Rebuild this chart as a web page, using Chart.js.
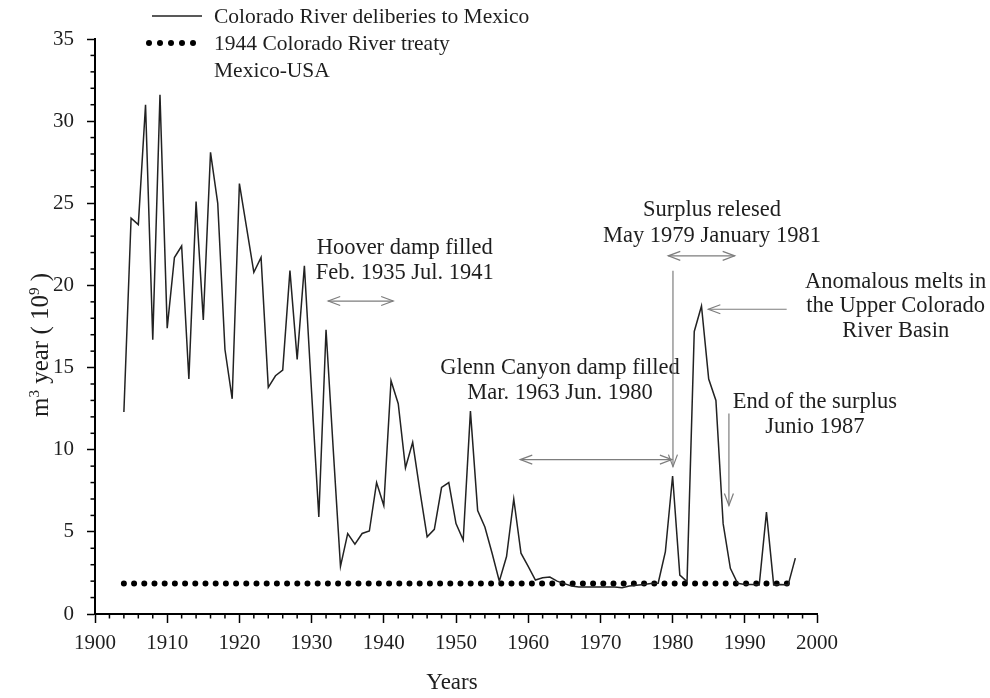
<!DOCTYPE html>
<html>
<head>
<meta charset="utf-8">
<script src="https://cdn.jsdelivr.net/npm/chart.js@4.4.0/dist/chart.umd.min.js"></script>
<style>
  html, body { margin: 0; padding: 0; background: #fff; }
  #wrap { position: relative; width: 990px; height: 698px; }
</style>
</head>
<body>
<div id="wrap"><canvas id="chart"></canvas></div>
<script>
// Colorado River deliveries to Mexico (10^9 m3 / year)
const years = [
    1904, 1905, 1906, 1907, 1908, 1909, 1910, 1911, 1912, 1913,
    1914, 1915, 1916, 1917, 1918, 1919, 1920, 1921, 1922, 1923,
    1924, 1925, 1926, 1927, 1928, 1929, 1930, 1931, 1932, 1933,
    1934, 1935, 1936, 1937, 1938, 1939, 1940, 1941, 1942, 1943,
    1944, 1945, 1946, 1947, 1948, 1949, 1950, 1951, 1952, 1953,
    1954, 1955, 1956, 1957, 1958, 1959, 1960, 1961, 1962, 1963,
    1964, 1965, 1966, 1967, 1968, 1969, 1970, 1971, 1972, 1973,
    1974, 1975, 1976, 1977, 1978, 1979, 1980, 1981, 1982, 1983,
    1984, 1985, 1986, 1987, 1988, 1989, 1990, 1991, 1992, 1993,
    1994, 1995, 1996, 1997,
];
const deliveries = [
    12.3, 24.1, 23.7, 31.0, 16.7, 31.6, 17.4, 21.7, 22.4, 14.3,
    25.1, 17.9, 28.1, 25.0, 16.1, 13.1, 26.2, 23.5, 20.8, 21.7,
    13.8, 14.5, 14.85, 20.9, 15.5, 21.2, 13.5, 5.9, 17.3, 10.0,
    2.9, 4.9, 4.25, 4.9, 5.05, 8.0, 6.6, 14.2, 12.8, 8.9,
    10.45, 7.5, 4.7, 5.15, 7.7, 8.0, 5.5, 4.5, 12.35, 6.3,
    5.3, 3.7, 2.0, 3.5, 7.0, 3.7, 2.9, 2.07, 2.2, 2.25,
    2.0, 1.85, 1.7, 1.65, 1.65, 1.65, 1.65, 1.65, 1.65, 1.6,
    1.7, 1.75, 1.8, 1.85, 1.87, 3.8, 8.4, 2.37, 1.97, 17.2,
    18.75, 14.3, 13.0, 5.5, 2.78, 1.87, 1.8, 1.8, 1.77, 6.2,
    1.77, 1.8, 1.77, 3.4,
];

// 1944 treaty allotment (constant line)
const treatyYears = [1904, 1997];
const treatyValues = [1.85, 1.85];

// axes
const xRange = [1900, 2000];
const yRange = [0, 35];

const serif = "'Liberation Serif', 'Times New Roman', serif";
const textColor = '#1e1e1e';
const arrowColor = '#7d7d7d';

function drawArrowHead(ctx, x, y, angle) {
    const len = 12, half = 4.5;
    ctx.beginPath();
    ctx.moveTo(x - len * Math.cos(angle) - half * Math.sin(angle), y - len * Math.sin(angle) + half * Math.cos(angle));
    ctx.lineTo(x, y);
    ctx.lineTo(x - len * Math.cos(angle) + half * Math.sin(angle), y - len * Math.sin(angle) - half * Math.cos(angle));
    ctx.stroke();
}

function drawArrow(ctx, x1, y1, x2, y2, both) {
    ctx.beginPath();
    ctx.moveTo(x1, y1);
    ctx.lineTo(x2, y2);
    ctx.stroke();
    const a = Math.atan2(y2 - y1, x2 - x1);
    drawArrowHead(ctx, x2, y2, a);
    if (both) drawArrowHead(ctx, x1, y1, a + Math.PI);
}

// extra drawing: minor ticks, axis titles, legend, annotations
const extras = {
    id: 'extras',
    afterDraw(chart) {
        const { ctx, chartArea } = chart;
        const xs = chart.scales.x, ys = chart.scales.y;
        const px = (v) => xs.getPixelForValue(v);
        const py = (v) => ys.getPixelForValue(v);
        ctx.save();

        // minor ticks
        ctx.strokeStyle = '#000';
        ctx.lineWidth = 1.5;
        for (let v = xRange[0]; v <= xRange[1]; v += 2) {
            if (v % 10 === 0) continue;
            ctx.beginPath();
            ctx.moveTo(px(v), chartArea.bottom);
            ctx.lineTo(px(v), chartArea.bottom + 4.5);
            ctx.stroke();
        }
        for (let v = yRange[0]; v <= yRange[1]; v += 1) {
            if (v % 5 === 0) continue;
            ctx.beginPath();
            ctx.moveTo(chartArea.left, py(v));
            ctx.lineTo(chartArea.left - 4.5, py(v));
            ctx.stroke();
        }

        // x title
        ctx.fillStyle = textColor;
        ctx.font = `23px ${serif}`;
        ctx.textAlign = 'center';
        ctx.textBaseline = 'middle';
        ctx.fillText('Years', (chartArea.left + chartArea.right) / 2 - 4, 683);

        // y title with superscripts
        ctx.save();
        ctx.translate(40, 345);
        ctx.rotate(-Math.PI / 2);
        const parts = [
            ['m', 25, 0], ['3', 15, -9], [' year ( 10', 25, 0], ['9', 15, -9], [' )', 25, 0],
        ];
        let total = 0;
        parts.forEach(([t, s]) => { ctx.font = `${s}px ${serif}`; total += ctx.measureText(t).width; });
        let cx = -total / 2;
        ctx.textAlign = 'left';
        ctx.textBaseline = 'alphabetic';
        parts.forEach(([t, s, dy]) => {
            ctx.font = `${s}px ${serif}`;
            ctx.fillText(t, cx, 8 + dy);
            cx += ctx.measureText(t).width;
        });
        ctx.restore();

        // legend
        ctx.font = `21.5px ${serif}`;
        ctx.textAlign = 'left';
        ctx.textBaseline = 'middle';
        ctx.strokeStyle = '#222';
        ctx.lineWidth = 1.5;
        ctx.beginPath();
        ctx.moveTo(152, 16);
        ctx.lineTo(202, 16);
        ctx.stroke();
        ctx.fillText('Colorado River deliberies to Mexico', 214, 17);
        ctx.fillStyle = '#000';
        for (let i = 0; i < 5; i++) {
            ctx.beginPath();
            ctx.arc(149 + i * 11, 43, 3, 0, Math.PI * 2);
            ctx.fill();
        }
        ctx.fillStyle = textColor;
        ctx.fillText('1944 Colorado River treaty', 214, 44);
        ctx.fillText('Mexico-USA', 214, 71);

        // annotation texts
        const notes = [
            { lines: ['Hoover damp filled', 'Feb. 1935 Jul. 1941'], x: 1942.9, y: 22.28, gap: 25 },
            { lines: ['Glenn Canyon damp filled', 'Mar. 1963 Jun. 1980'], x: 1964.4, y: 14.97, gap: 25 },
            { lines: ['Surplus relesed', 'May 1979 January 1981'], x: 1985.45, y: 24.59, gap: 26 },
            { lines: ['Anomalous melts in', 'the Upper Colorado', 'River Basin'], x: 2010.9, y: 20.22, gap: 24.5 },
            { lines: ['End of the surplus', 'Junio 1987'], x: 1999.7, y: 12.92, gap: 25 },
        ];
        ctx.font = `22.5px ${serif}`;
        ctx.textAlign = 'center';
        notes.forEach((n) => {
            n.lines.forEach((l, i) => ctx.fillText(l, px(n.x), py(n.y) + i * n.gap));
        });

        // arrows
        ctx.strokeStyle = arrowColor;
        ctx.lineWidth = 1.2;
        const arrows = [
            [1932.3, 19.05, 1941.3, 19.05, true],
            [1958.9, 9.4, 1979.9, 9.4, true],
            [1979.4, 21.8, 1988.6, 21.8, true],
            [1980.05, 20.9, 1980.05, 8.97, false],
            [1995.8, 18.55, 1984.95, 18.55, false],
            [1987.8, 12.2, 1987.8, 6.6, false],
        ];
        arrows.forEach(([x1, y1, x2, y2, both]) => drawArrow(ctx, px(x1), py(y1), px(x2), py(y2), both));

        ctx.restore();
    },
};

const ctx = document.getElementById('chart').getContext('2d');
const chart = new Chart(ctx, {
    type: 'line',
    data: {
        datasets: [
            {
                label: 'Colorado River deliberies to Mexico',
                data: years.map((yr, i) => ({ x: yr, y: deliveries[i] })),
                borderColor: '#222',
                borderWidth: 1.5,
                pointRadius: 0,
                tension: 0,
            },
            {
                label: '1944 Colorado River treaty Mexico-USA',
                data: treatyYears.map((yr, i) => ({ x: yr, y: treatyValues[i] })),
                borderColor: '#000',
                borderWidth: 6,
                borderDash: [0, 10.2],
                borderCapStyle: 'round',
                pointRadius: 0,
            },
        ],
    },
    options: {
        responsive: true,
        maintainAspectRatio: false,
        animation: false,
        layout: {
            padding: { top: 39, right: 173, left: 0, bottom: 0 },
        },
        scales: {
            x: {
                type: 'linear',
                min: xRange[0],
                max: xRange[1],
                afterFit: (s) => { s.height = 84; },
                border: { color: '#000', width: 2 },
                grid: {
                    drawOnChartArea: false,
                    tickLength: 9,
                    tickColor: '#000',
                    tickWidth: 1.5,
                },
                ticks: {
                    stepSize: 10,
                    color: textColor,
                    font: { family: serif, size: 21 },
                    padding: 8,
                    maxRotation: 0,
                    callback: (v) => String(v),
                },
            },
            y: {
                min: yRange[0],
                max: yRange[1],
                afterFit: (s) => { s.width = 95; },
                border: { color: '#000', width: 2 },
                grid: {
                    drawOnChartArea: false,
                    tickLength: 8,
                    tickColor: '#000',
                    tickWidth: 1.5,
                },
                ticks: {
                    stepSize: 5,
                    color: textColor,
                    font: { family: serif, size: 21 },
                    padding: 13,
                    callback: (v) => String(v),
                },
            },
        },
        plugins: {
            legend: { display: false },
            tooltip: { enabled: false },
        },
    },
    plugins: [extras],
});
</script>
</body>
</html>
